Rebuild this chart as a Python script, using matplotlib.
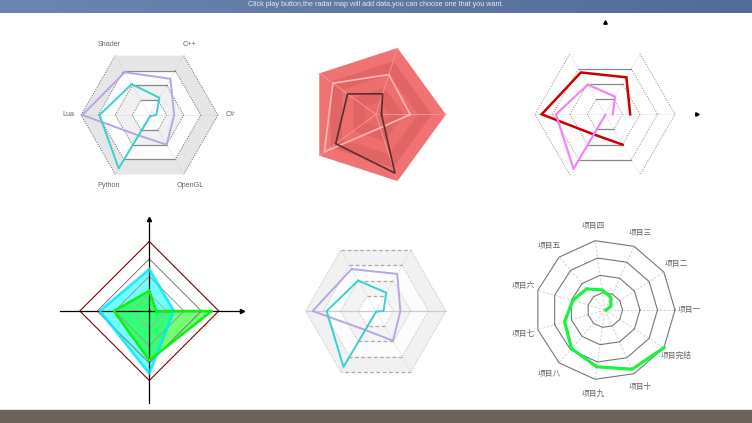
import numpy as np
import matplotlib
matplotlib.use('Agg')
import matplotlib.pyplot as plt
from matplotlib.colors import LinearSegmentedColormap
from matplotlib.patches import Rectangle

W, H = 752, 423

# ---- data ----
title = 'Click play button,the radar map will add data,you can choose one that you want.'

hex_labels = ['Shader', 'C++', 'C#', 'OpenGL', 'Python', 'Lua']
c1_purple = [0.72, 0.61, 0.36, 0.50, 0.34, 0.98]
c1_cyan = [0.52, 0.29, 0.10, 0.02, 0.90, 0.73]

c2_pink = [0.49, 0.60, 0.76, 0.91, 0.20]
c2_dark = [0.08, 0.31, 0.50, 0.71, 0.88]

c3_red = [0.69, 0.61, 0.36, 0.50, 0.33, 0.905]
c3_violet = [0.49, 0.29, 0.11, 0.01, 0.90, 0.70]

c4_cyan = [0.60, 0.355, 0.90, 0.71]
c4_green_axis = [0, 1, 1, 2, 3]
c4_green = [0.29, 0.10, 0.90, 0.71, 0.51]

c5_purple = [0.69, 0.61, 0.35, 0.49, 0.31, 0.90]
c5_cyan = [0.50, 0.30, 0.11, 0.01, 0.92, 0.70]

items = ['项目一', '项目二', '项目三', '项目四', '项目五', '项目六',
         '项目七', '项目八', '项目九', '项目十', '项目完结']
c6_green = [0.02, 0.10, 0.20, 0.29, 0.40, 0.48, 0.60, 0.73, 0.82, 0.93, 1.00]

# ---- layout ----
hex_ang = [120, 60, 0, -60, -120, 180]
pent_ang = [0, 72, 144, 216, 288]
dia_ang = [90, 0, 270, 180]
ring_ang = [i * 360 / 11 for i in range(11)]

fig = plt.figure(figsize=(W / 100, H / 100), dpi=100)


def place(cx, cy, R, pad=1.6):
    ax = fig.add_axes([(cx - R * pad) / W, (H - cy - R * pad) / H,
                       2 * R * pad / W, 2 * R * pad / H])
    ax.set_xlim(-pad, pad)
    ax.set_ylim(-pad, pad)
    ax.axis('off')
    return ax


def pts(angles, vals):
    a = np.radians(angles)
    v = np.asarray(vals, dtype=float)
    return v * np.cos(a), v * np.sin(a)


def ring(angles, r):
    return pts(angles, [r] * len(angles))


def closed(x, y):
    return np.append(x, x[0]), np.append(y, y[0])


def grid_edges(ax, angles, levels, hstyle, dstyle, skip_outer_h=False):
    n = len(angles)
    for lv in levels:
        x, y = ring(angles, lv)
        for i in range(n):
            j = (i + 1) % n
            if abs(y[i] - y[j]) < 1e-6:
                if skip_outer_h and lv == levels[-1]:
                    continue
                ax.plot([x[i], x[j]], [y[i], y[j]], **hstyle)
            else:
                ax.plot([x[i], x[j]], [y[i], y[j]], **dstyle)


def spokes(ax, angles, **kw):
    for a in angles:
        x, y = pts([a], [1.0])
        ax.plot([0, x[0]], [0, y[0]], **kw)


# header / footer
hdr = fig.add_axes([0, 1 - 13 / H, 1, 13 / H])
hdr.imshow(np.linspace(0, 1, 256).reshape(1, -1), aspect='auto',
           cmap=LinearSegmentedColormap.from_list('hd', ['#6c86af', '#526c95']))
hdr.axis('off')
fig.text(0.5, 1 - 1.5 / H, title, ha='center', va='top', fontsize=5.2,
         color='#e4eaf2', family='Liberation Sans')
fig.add_artist(Rectangle((0, 0), 1, 13 / H, transform=fig.transFigure,
                         color='#6b625b', zorder=10))

# ---- chart 1 ----
ax = place(149.5, 115, 68.5)
for lv, col in zip([1.0, 0.75, 0.5, 0.25], ['#e6e6e6', '#fdfdfd', '#f0f0f0', '#ffffff']):
    ax.fill(*ring(hex_ang, lv), color=col, lw=0)
spokes(ax, hex_ang, color='#c8c8c8', lw=0.6, ls=':')
grid_edges(ax, hex_ang, [0.25, 0.5, 0.75, 1.0],
           dict(color='#888888', lw=0.9),
           dict(color='#666666', lw=0.7, ls=(0, (1, 1.5))), skip_outer_h=True)
ax.plot(*closed(*pts(hex_ang, c1_purple)), color='#b7a6e2', lw=1.4)
ax.plot(*closed(*pts(hex_ang, c1_cyan)), color='#3ccfcf', lw=1.4)
for a, lab in zip(hex_ang, hex_labels):
    x, y = pts([a], [1.18])
    ax.text(x[0], y[0], lab, ha='center', va='center', fontsize=5.2,
            color='#666666', family='Liberation Sans')

# ---- chart 2 ----
ax = place(375.9, 114.5, 70)
for lv, col in zip([1.0, 0.8, 0.6, 0.4, 0.2],
                   ['#f07272', '#e26565', '#ee6e6e', '#e16464', '#ea6a6a']):
    ax.fill(*ring(pent_ang, lv), color=col, lw=0)
spokes(ax, pent_ang, color='#f39a9a', lw=0.6)
ax.plot(*closed(*pts(pent_ang, c2_pink)), color='#f8b8b8', lw=1.2)
ax.plot(*closed(*pts(pent_ang, c2_dark)), color='#5a2e2e', lw=1.2)

# ---- chart 3 ----
ax = place(605, 114.3, 70)
spokes(ax, hex_ang, color='#cccccc', lw=0.6, ls=':')
grid_edges(ax, hex_ang, [0.25, 0.5, 0.75, 1.0],
           dict(color='#888888', lw=0.9),
           dict(color='#888888', lw=0.7, ls=(0, (1, 1.5))), skip_outer_h=True)
order = [3, 4, 5, 0, 1, 2]
x, y = pts([hex_ang[i] for i in order], [c3_red[i] for i in order])
ax.plot(x, y, color='#cc0000', lw=1.8, solid_joinstyle='miter')
x, y = pts([hex_ang[i] for i in order], [c3_violet[i] for i in order])
ax.plot(x, y, color='#f585f5', lw=1.6)
ax.plot([0], [1.32], marker='^', color='black', ms=2.5)
ax.plot([1.31], [0], marker='>', color='black', ms=2.5)

# ---- chart 4 ----
ax = place(149.3, 311, 69.5)
for lv, col in zip([0.25, 0.5, 0.75], ['#aaaaaa', '#999999', '#777777']):
    ax.plot(*closed(*ring(dia_ang, lv)), color=col, lw=0.7)
ax.plot(*closed(*ring(dia_ang, 1.0)), color='#800000', lw=0.8)
ax.plot([0, 0], [-1.33, 1.32], color='black', lw=0.9)
ax.plot([-1.29, 1.32], [0, 0], color='black', lw=0.9)
ax.plot([0], [1.33], marker='^', color='black', ms=3)
ax.plot([1.33], [0], marker='>', color='black', ms=3)
x, y = pts(dia_ang, c4_cyan)
ax.fill(x, y, color='#00ffff', alpha=0.55, lw=0)
ax.plot(*closed(x, y), color='#00e5ff', lw=2.0, alpha=0.8)
x, y = pts([dia_ang[i] for i in c4_green_axis], c4_green)
ax.fill(x, y, color='#00ff00', alpha=0.55, lw=0)
ax.plot(*closed(x, y), color='#11ee11', lw=1.8)

# ---- chart 5 ----
ax = place(375.8, 311, 70.2)
for lv, col in zip([1.0, 0.75, 0.5, 0.25], ['#f1f1f1', '#fcfcfc', '#f4f4f4', '#ffffff']):
    ax.fill(*ring(hex_ang, lv), color=col, lw=0)
spokes(ax, [120, 60, -60, -120], color='#cccccc', lw=0.6, ls=':')
ax.plot([-1, 1], [0, 0], color='#cccccc', lw=0.9)
grid_edges(ax, hex_ang, [0.25, 0.5, 0.75, 1.0],
           dict(color='#aaaaaa', lw=0.9, ls=(0, (3, 2))),
           dict(color='#bbbbbb', lw=0.7, ls=(0, (1, 1.5))))
ax.plot(*closed(*pts(hex_ang, c5_purple)), color='#b7a6e2', lw=1.4)
ax.plot(*closed(*pts(hex_ang, c5_cyan)), color='#3ccfcf', lw=1.4)

# ---- chart 6 ----
ax = place(605, 310, 70)
spokes(ax, ring_ang, color='#cccccc', lw=0.6, ls=(0, (3, 2)))
for lv in [0.25, 0.5, 0.75, 1.0]:
    ax.plot(*closed(*ring(ring_ang, lv)), color='#777777', lw=0.8)
ax.plot(*pts(ring_ang, c6_green), color='#14f53c', lw=2.3, solid_joinstyle='round')
for a, lab in zip(ring_ang, items):
    x, y = pts([a], [1.21])
    ax.text(x[0], y[0], lab, ha='center', va='center', fontsize=5.6,
            color='#666666', family=['Noto Sans CJK SC', 'DejaVu Sans'])

fig.savefig('out.png', dpi=100)
